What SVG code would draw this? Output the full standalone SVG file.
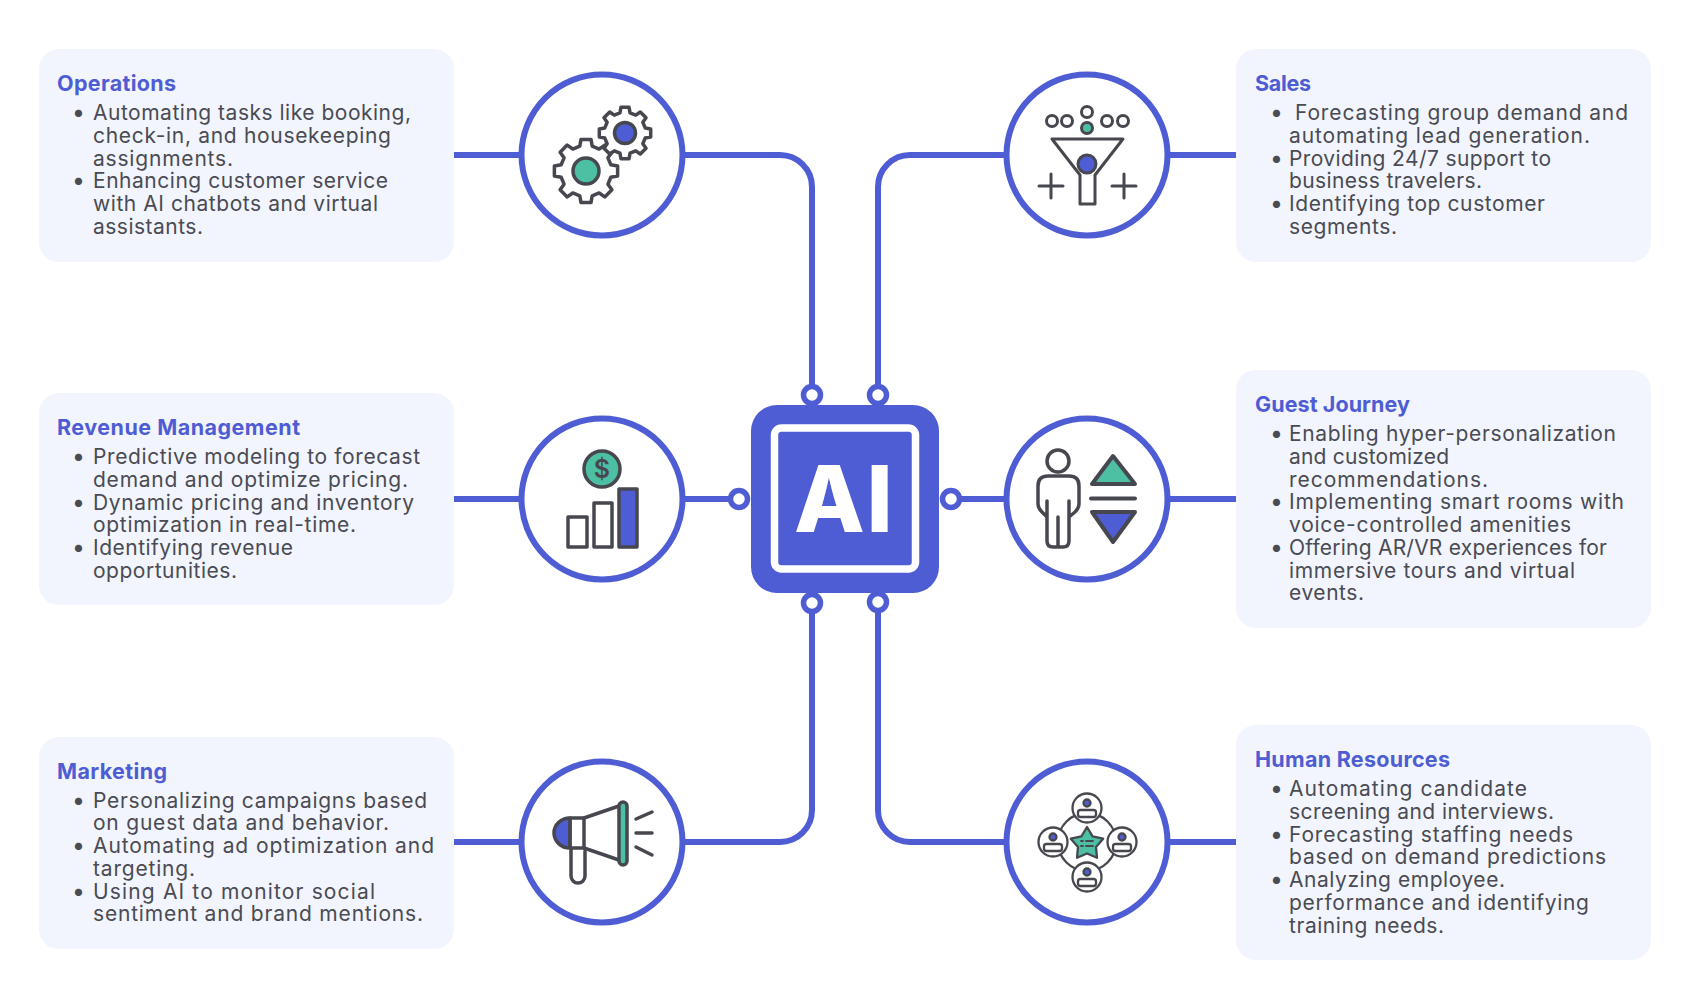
<svg xmlns="http://www.w3.org/2000/svg" width="1696" height="995" viewBox="0 0 1696 995">
<style>
text{font-family:"Inter","Noto Sans","Liberation Sans",sans-serif}
.card{fill:#f2f5fe}
.t{font-size:21px;fill:#4a4b53;font-weight:400}
.h{font-size:21.5px;fill:#4f5dd4;font-weight:700}
.b{font-size:23px;fill:#4a4b53}
.ring{fill:#fff;stroke:#4f5dd4;stroke-width:6}
.pin{fill:#fff;stroke:#4f5dd4;stroke-width:5.5}
.wire{fill:none;stroke:#4f5dd4;stroke-width:6}
.i{fill:none;stroke:#47484f;stroke-width:3.5;stroke-linejoin:round;stroke-linecap:round}
.w{fill:#fff}
.g{fill:#4dbfa3}
.u{fill:#4f5dd4}
.thin{stroke-width:2.3}
</style>
<defs>
<polygon id="gear" vector-effect="non-scaling-stroke" points="-15.6,-98.8 15.6,-98.8 19.4,-77.6 41.2,-68.6 58.8,-80.9 80.9,-58.8 68.6,-41.2 77.6,-19.4 98.8,-15.6 98.8,15.6 77.6,19.4 68.6,41.2 80.9,58.8 58.8,80.9 41.2,68.6 19.4,77.6 15.6,98.8 -15.6,98.8 -19.4,77.6 -41.2,68.6 -58.8,80.9 -80.9,58.8 -68.6,41.2 -77.6,19.4 -98.8,15.6 -98.8,-15.6 -77.6,-19.4 -68.6,-41.2 -80.9,-58.8 -58.8,-80.9 -41.2,-68.6 -19.4,-77.6"/>
<g id="member">
<circle class="i thin w" r="14.5"/>
<circle class="i thin" cy="-5" r="3.5" style="fill:#4f5dd4"/>
<rect class="i thin w" x="-9" y="2" width="18" height="7" rx="2.5"/>
</g>
</defs>
<rect width="1696" height="995" fill="#fff"/>
<g id="connectors">
<path class="wire" d="M454 155H522M685 155H780A32 32 0 0 1 812 187V394"/>
<path class="wire" d="M454 499H522M683 499H739"/>
<path class="wire" d="M454 842H522M685 842H780A32 32 0 0 0 812 810V602"/>
<path class="wire" d="M1168 155H1236M1006 155H910A32 32 0 0 0 878 187V394"/>
<path class="wire" d="M1168 499H1236M951 499H1006"/>
<path class="wire" d="M1168 842H1236M1006 842H910A32 32 0 0 1 878 810V602"/>
</g>
<g id="ai-chip">
<circle class="pin" cx="812" cy="395" r="8.5"/><circle class="pin" cx="878" cy="395" r="8.5"/>
<circle class="pin" cx="812" cy="603" r="8.5"/><circle class="pin" cx="878" cy="602" r="8.5"/>
<circle class="pin" cx="739" cy="499" r="8.5"/><circle class="pin" cx="951" cy="499" r="8.5"/>
<rect x="751" y="405" width="188" height="188" rx="26" class="u"/>
<rect x="774.500" y="428" width="141" height="141" rx="7" class="u" stroke="#fff" stroke-width="7.500"/>
<text x="794 866.500" y="532" font-size="92" font-weight="800" fill="#fff">AI</text>
</g>
<g id="operations">
<rect class="card" x="39" y="49" width="415" height="213" rx="20"/>
<text class="h" x="57" y="91" textLength="119">Operations</text>
<text class="b" x="72" y="120">•</text><text class="b" x="72" y="188.250">•</text>
<text class="t" x="93" y="120" textLength="318">Automating tasks like booking,</text>
<text class="t" x="93" y="142.750" textLength="298">check-in, and housekeeping</text>
<text class="t" x="93" y="165.500" textLength="140">assignments.</text>
<text class="t" x="93" y="188.250" textLength="295">Enhancing customer service</text>
<text class="t" x="93" y="211" textLength="285">with AI chatbots and virtual</text>
<text class="t" x="93" y="233.750" textLength="110">assistants.</text>
</g>
<g id="operations-icon">
<circle class="ring" cx="602" cy="155" r="80.500"/>
<use href="#gear" transform="translate(586 171) scale(.32)" class="i w"/>
<circle class="i g" cx="586" cy="171" r="13"/>
<use href="#gear" transform="translate(625 133) scale(.26)" class="i w"/>
<circle class="i u" cx="625" cy="133" r="10.500"/>
</g>
<g id="revenue-management">
<rect class="card" x="39" y="393" width="415" height="212" rx="20"/>
<text class="h" x="57" y="435" textLength="243">Revenue Management</text>
<text class="b" x="72" y="464">•</text><text class="b" x="72" y="509.500">•</text><text class="b" x="72" y="555">•</text>
<text class="t" x="93" y="464" textLength="327">Predictive modeling to forecast</text>
<text class="t" x="93" y="486.750" textLength="315">demand and optimize pricing.</text>
<text class="t" x="93" y="509.500" textLength="321">Dynamic pricing and inventory</text>
<text class="t" x="93" y="532.250" textLength="263">optimization in real-time.</text>
<text class="t" x="93" y="555" textLength="200">Identifying revenue</text>
<text class="t" x="93" y="577.750" textLength="144">opportunities.</text>
</g>
<g id="revenue-icon">
<circle class="ring" cx="602" cy="499" r="80.500"/>
<circle class="i g" cx="602" cy="469" r="18"/>
<text x="602" y="478" font-size="25" font-weight="600" fill="#47484f" text-anchor="middle">$</text>
<rect class="i" x="568" y="517" width="19" height="30"/>
<rect class="i" x="594" y="503" width="18" height="44"/>
<rect class="i u" x="619" y="489" width="18" height="58"/>
</g>
<g id="marketing">
<rect class="card" x="39" y="737" width="415" height="212" rx="20"/>
<text class="h" x="57" y="779" textLength="110">Marketing</text>
<text class="b" x="72" y="807.500">•</text><text class="b" x="72" y="853">•</text><text class="b" x="72" y="898.500">•</text>
<text class="t" x="93" y="807.500" textLength="334">Personalizing campaigns based</text>
<text class="t" x="93" y="830.250" textLength="296">on guest data and behavior.</text>
<text class="t" x="93" y="853" textLength="341">Automating ad optimization and</text>
<text class="t" x="93" y="875.750" textLength="102">targeting.</text>
<text class="t" x="93" y="898.500" textLength="282">Using AI to monitor social</text>
<text class="t" x="93" y="921.250" textLength="330">sentiment and brand mentions.</text>
</g>
<g id="marketing-icon">
<circle class="ring" cx="602" cy="842" r="80.500"/>
<path class="i u" d="M570 818A16 15 0 0 0 570 848Z"/>
<path class="i" d="M570 818H584V848H570Z"/>
<path class="i" d="M584 818L619 806M584 848L619 860"/>
<path class="i" d="M571 848V876A7 7 0 0 0 585 876V851"/>
<rect class="i g" x="619" y="802" width="8" height="63" rx="4"/>
<path class="i" d="M636 819L652 812M636 833H652M636 847L652 855"/>
</g>
<g id="sales">
<rect class="card" x="1236" y="49" width="415" height="213" rx="20"/>
<text class="h" x="1255" y="91" textLength="56">Sales</text>
<text class="b" x="1270" y="120">•</text><text class="b" x="1270" y="165.500">•</text><text class="b" x="1270" y="211">•</text>
<text class="t" x="1295" y="120" textLength="333">Forecasting group demand and</text>
<text class="t" x="1289" y="142.750" textLength="301">automating lead generation.</text>
<text class="t" x="1289" y="165.500" textLength="262">Providing 24/7 support to</text>
<text class="t" x="1289" y="188.250" textLength="193">business travelers.</text>
<text class="t" x="1289" y="211" textLength="256">Identifying top customer</text>
<text class="t" x="1289" y="233.750" textLength="108">segments.</text>
</g>
<g id="sales-icon">
<circle class="ring" cx="1087" cy="155" r="80.500"/>
<g class="i" style="stroke-width:3">
<circle cx="1052" cy="121" r="5.500"/><circle cx="1067" cy="121" r="5.500"/><circle cx="1107" cy="121" r="5.500"/><circle cx="1123" cy="121" r="5.500"/><circle cx="1087" cy="112" r="5.500"/>
<circle class="g" cx="1087" cy="128" r="5.500"/>
<path d="M1052 139H1123L1095 175V204H1080V175Z"/>
<circle class="u" cx="1087" cy="164" r="9"/>
<path d="M1039 186H1063M1051 174V198M1112 186H1136M1124 174V198"/>
</g>
</g>
<g id="guest-journey">
<rect class="card" x="1236" y="370" width="415" height="258" rx="20"/>
<text class="h" x="1255" y="412" textLength="155">Guest Journey</text>
<text class="b" x="1270" y="441">•</text><text class="b" x="1270" y="509.250">•</text><text class="b" x="1270" y="554.750">•</text>
<text class="t" x="1289" y="441" textLength="327">Enabling hyper-personalization</text>
<text class="t" x="1289" y="463.750" textLength="160">and customized</text>
<text class="t" x="1289" y="486.500" textLength="199">recommendations.</text>
<text class="t" x="1289" y="509.250" textLength="335">Implementing smart rooms with</text>
<text class="t" x="1289" y="532" textLength="282">voice-controlled amenities</text>
<text class="t" x="1289" y="554.750" textLength="318">Offering AR/VR experiences for</text>
<text class="t" x="1289" y="577.500" textLength="286">immersive tours and virtual</text>
<text class="t" x="1289" y="600.250" textLength="75">events.</text>
</g>
<g id="guest-icon">
<circle class="ring" cx="1087" cy="499" r="80.500"/>
<circle class="i" cx="1058" cy="461" r="11"/>
<path class="i" d="M1047 501V541Q1047 547 1053 547H1063Q1069 547 1069 541V501M1047 517L1042 512Q1038 508 1038 504V486Q1038 476 1048 476H1069Q1079 476 1079 486V504Q1079 508 1075 512L1069 517M1058 517V547"/>
<path class="i g" style="stroke-width:4" d="M1113 456L1135 484H1092Z"/>
<path class="i" style="stroke-width:4" d="M1091 498.500H1135"/>
<path class="i u" style="stroke-width:4" d="M1092 512H1135L1113 542Z"/>
</g>
<g id="human-resources">
<rect class="card" x="1236" y="725" width="415" height="235" rx="20"/>
<text class="h" x="1255" y="767" textLength="195">Human Resources</text>
<text class="b" x="1270" y="796">•</text><text class="b" x="1270" y="841.500">•</text><text class="b" x="1270" y="887">•</text>
<text class="t" x="1289" y="796" textLength="238">Automating candidate</text>
<text class="t" x="1289" y="818.750" textLength="265">screening and interviews.</text>
<text class="t" x="1289" y="841.500" textLength="284">Forecasting staffing needs</text>
<text class="t" x="1289" y="864.250" textLength="317">based on demand predictions</text>
<text class="t" x="1289" y="887" textLength="216">Analyzing employee.</text>
<text class="t" x="1289" y="909.750" textLength="300">performance and identifying</text>
<text class="t" x="1289" y="932.500" textLength="155">training needs.</text>
</g>
<g id="human-resources-icon">
<circle class="ring" cx="1087" cy="842" r="80.500"/>
<circle class="i thin" cx="1087" cy="842" r="29"/>
<use href="#member" x="1087" y="808"/><use href="#member" x="1087" y="877"/><use href="#member" x="1053" y="842"/><use href="#member" x="1122" y="842"/>
<polygon class="i g thin" points="1087,827 1092.600,836.300 1103.200,838.700 1096,846.900 1097,857.800 1087,853.500 1077,857.800 1078,846.900 1070.800,838.700 1081.400,836.300"/>
<path class="i" style="stroke-width:1.800" d="M1081 841H1083M1086 841H1093M1081 846H1083M1086 846H1093"/>
</g>
</svg>
